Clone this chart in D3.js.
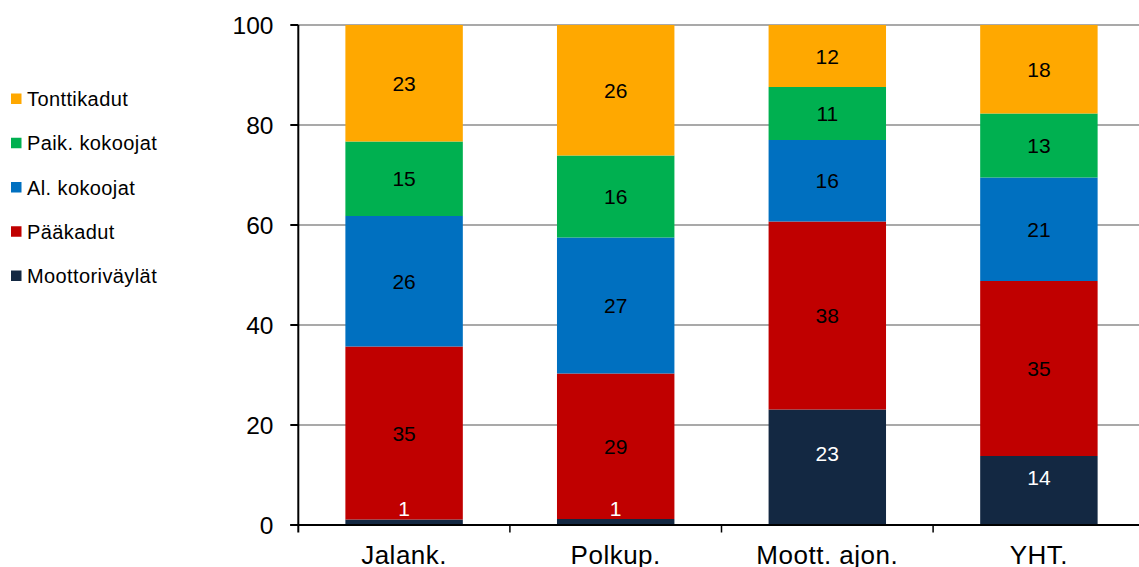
<!DOCTYPE html>
<html>
<head>
<meta charset="utf-8">
<script src="https://cdn.jsdelivr.net/npm/d3@7"></script>
<style>
  html, body { margin: 0; padding: 0; background: #fff; }
  svg { display: block; font-family: Arial, "Liberation Sans", Helvetica, sans-serif; }
</style>
</head>
<body>
<svg id="chart" width="1139" height="567"></svg>
<script>
// Categories (x axis)
const categories = ["Jalank.", "Polkup.", "Moott. ajon.", "YHT."];

// Series, bottom to top of each stack (shares in %)
const seriesNames = ["Moottoriväylät", "Pääkadut", "Al. kokoojat", "Paik. kokoojat", "Tonttikadut"];
const moottorivaylat = [1.1, 1.2, 23.1, 13.8];
const paakadut       = [34.6, 29.1, 37.6, 35.0];
const alKokoojat     = [26.1, 27.2, 16.3, 20.7];
const paikKokoojat   = [14.9, 16.4, 10.6, 12.8];
const tonttikadut    = [23.3, 26.1, 12.4, 17.7];

const seriesColors = ["#132842", "#c00000", "#0070c0", "#00b050", "#ffa800"];
const labelColors  = ["#ffffff", "#000000", "#000000", "#000000", "#000000"];

// Y axis ticks
const yTicks = [0, 20, 40, 60, 80, 100];

const seriesValues = [moottorivaylat, paakadut, alKokoojat, paikKokoojat, tonttikadut];
const rows = categories.map((c, i) => {
  const r = { category: c };
  seriesNames.forEach((s, k) => { r[s] = seriesValues[k][i]; });
  return r;
});

const svg = d3.select("#chart");

const plot = { left: 298.3, right: 1144.7, top: 25, bottom: 525 };

const x = d3.scaleBand().domain(categories).range([plot.left, plot.right]).padding(0);
const y = d3.scaleLinear().domain([0, 100]).range([plot.bottom, plot.top]);
const barW = x.bandwidth() * 0.555;

// Gridlines
svg.append("g")
  .selectAll("line")
  .data(yTicks.filter(t => t > 0))
  .join("line")
  .attr("x1", plot.left).attr("x2", 1139)
  .attr("y1", d => y(d)).attr("y2", d => y(d))
  .attr("stroke", "#8c8c8c").attr("stroke-width", 1.5);

// Stacked bars
const stack = d3.stack().keys(seriesNames)(rows);

const layers = svg.append("g")
  .selectAll("g")
  .data(stack)
  .join("g")
  .attr("fill", (d, i) => seriesColors[i]);

layers.selectAll("rect")
  .data(d => d)
  .join("rect")
  .attr("x", d => x(d.data.category) + (x.bandwidth() - barW) / 2)
  .attr("width", barW)
  .attr("y", d => y(d[1]))
  .attr("height", d => y(d[0]) - y(d[1]));

// Segment value labels (the bottom series sits a little above its centre)
const labels = svg.append("g")
  .attr("font-size", 21)
  .attr("text-anchor", "middle");

stack.forEach((layer, i) => {
  layer.forEach(d => {
    const top = y(d[1]), bottom = y(d[0]);
    const cy = (top + bottom) / 2 - (i === 0 ? 13.5 : 0);
    labels.append("text")
      .attr("x", x(d.data.category) + x.bandwidth() / 2)
      .attr("y", cy)
      .attr("dy", "0.36em")
      .attr("fill", labelColors[i])
      .text(d3.format(".0f")(d[1] - d[0]));
  });
});

// Y axis
const yAxis = svg.append("g");
yAxis.append("line")
  .attr("x1", plot.left).attr("x2", plot.left)
  .attr("y1", plot.top).attr("y2", plot.bottom + 7.5)
  .attr("stroke", "#000").attr("stroke-width", 2);
yAxis.selectAll("line.tick")
  .data(yTicks)
  .join("line")
  .attr("class", "tick")
  .attr("x1", plot.left - 8).attr("x2", plot.left)
  .attr("y1", d => y(d)).attr("y2", d => y(d))
  .attr("stroke", "#000").attr("stroke-width", 2);
yAxis.selectAll("text")
  .data(yTicks)
  .join("text")
  .attr("x", 273.5)
  .attr("y", d => y(d))
  .attr("dy", "0.36em")
  .attr("text-anchor", "end")
  .attr("font-size", 24.5)
  .attr("fill", "#000")
  .text(d => d);

// X axis
const xAxis = svg.append("g");
xAxis.append("line")
  .attr("x1", plot.left - 8).attr("x2", 1139)
  .attr("y1", plot.bottom).attr("y2", plot.bottom)
  .attr("stroke", "#000").attr("stroke-width", 2);
xAxis.selectAll("line.tick")
  .data(categories.slice(1))
  .join("line")
  .attr("class", "tick")
  .attr("x1", d => x(d)).attr("x2", d => x(d))
  .attr("y1", plot.bottom).attr("y2", plot.bottom + 7.5)
  .attr("stroke", "#000").attr("stroke-width", 1.5);
xAxis.selectAll("text")
  .data(categories)
  .join("text")
  .attr("x", d => x(d) + x.bandwidth() / 2)
  .attr("y", 563.5)
  .attr("text-anchor", "middle")
  .attr("font-size", 26)
  .attr("letter-spacing", 0.5)
  .attr("fill", "#000")
  .text(d => d);

// Legend (top series first)
const legendOrder = seriesNames.map((s, i) => ({ name: s, color: seriesColors[i] })).reverse();
const legend = svg.append("g");
const items = legend.selectAll("g")
  .data(legendOrder)
  .join("g")
  .attr("transform", (d, i) => `translate(11, ${99 + i * 44.25})`);
items.append("rect")
  .attr("x", 0).attr("y", -5.5)
  .attr("width", 10.5).attr("height", 10.5)
  .attr("fill", d => d.color);
items.append("text")
  .attr("x", 16)
  .attr("y", 0)
  .attr("dy", "0.36em")
  .attr("font-size", 20)
  .attr("letter-spacing", 0.4)
  .attr("fill", "#000")
  .text(d => d.name);
</script>
</body>
</html>
